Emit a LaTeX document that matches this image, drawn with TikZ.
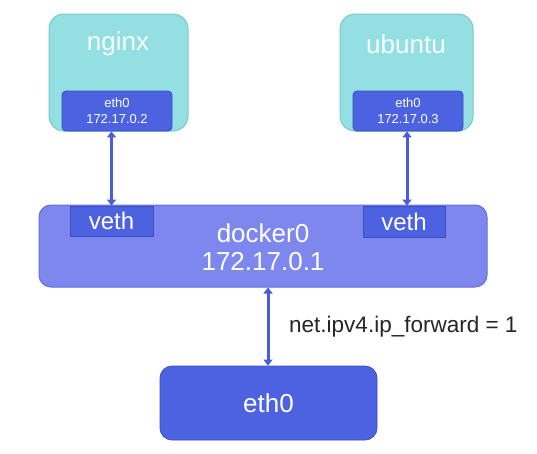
\documentclass[tikz,border=0pt]{standalone}
\usepackage{fontspec}
\setmainfont{Liberation Sans}
\usetikzlibrary{arrows.meta}
\definecolor{cyanfill}{RGB}{148,223,225}
\definecolor{cyanline}{RGB}{120,200,205}
\definecolor{bluefill}{RGB}{76,98,224}
\definecolor{blueline}{RGB}{58,78,196}
\definecolor{bridgefill}{RGB}{125,135,238}
\definecolor{bridgeline}{RGB}{100,112,220}
\definecolor{arrowcol}{RGB}{74,92,214}
\tikzset{
  container/.style={draw=cyanline, fill=cyanfill, rounded corners=15pt, line width=1pt},
  iface/.style={draw=blueline, fill=bluefill, rounded corners=4pt, line width=0.8pt, text=white, align=center, font=\fontsize{13}{16}\selectfont, inner sep=0pt},
  vethbox/.style={draw=blueline, fill=bluefill, line width=0.8pt, text=white, font=\fontsize{24}{28}\selectfont, inner sep=0pt},
  bridge/.style={draw=bridgeline, fill=bridgefill, rounded corners=12pt, line width=1pt},
  hostif/.style={draw=blueline, fill=bluefill, rounded corners=12pt, line width=0.8pt, text=white, font=\fontsize{26}{30}\selectfont, inner sep=0pt},
  title/.style={text=white!92!cyanfill, font=\fontsize{26}{30}\selectfont, inner sep=0pt},
  btitle/.style={text=white, font=\fontsize{26}{30}\selectfont, inner sep=0pt},
  link/.style={draw=arrowcol, line width=3pt, {Triangle[width=9pt,length=6pt]}-{Triangle[width=9pt,length=6pt]}},
}
\begin{document}
\begin{tikzpicture}[x=1pt,y=-1pt]
\useasboundingbox (0,0) rectangle (537,453);
\fill[white] (0,0) rectangle (537,453);
% containers
\node[container, minimum width=139pt, minimum height=117pt] (nginx) at (118.5,72.5) {};
\node[title] (nginxlbl) at (118,44) {nginx};
\node[iface, minimum width=110pt, minimum height=40pt] (ethn) at (117,111) {eth0\\172.17.0.2};
\node[container, minimum width=133pt, minimum height=117pt] (ubuntu) at (406.5,72.5) {};
\node[title] (ubuntulbl) at (406,44) {ubuntu};
\node[iface, minimum width=110pt, minimum height=40pt] (ethu) at (408,111) {eth0\\172.17.0.3};
% bridge
\node[bridge, minimum width=448pt, minimum height=82pt] (docker) at (263,246) {};
\node[btitle] (dockerlbl) at (263,233) {docker0};
\node[btitle] (dockerip) at (263,262) {172.17.0.1};
\node[vethbox, minimum width=83pt, minimum height=30pt] (vethl) at (111.5,221) {veth};
\node[vethbox, minimum width=82pt, minimum height=31pt] (vethr) at (404,221.5) {veth};
% host
\node[hostif, minimum width=217pt, minimum height=74pt] (eth) at (268.5,403) {eth0};
% links
\draw[link] (ethn.south -| vethl.north) -- (vethl.north);
\draw[link] (ethu.south -| 407,0) -- (vethr.north -| 407,0);
\draw[link] (eth.north -| 268,0) -- (docker.south -| 268,0);
\node[anchor=west, font=\fontsize{22.5}{26}\selectfont, text=black!85, inner sep=0pt] (fwd) at (289,327) {net.ipv4.ip\_forward = 1};
\end{tikzpicture}
\end{document}
